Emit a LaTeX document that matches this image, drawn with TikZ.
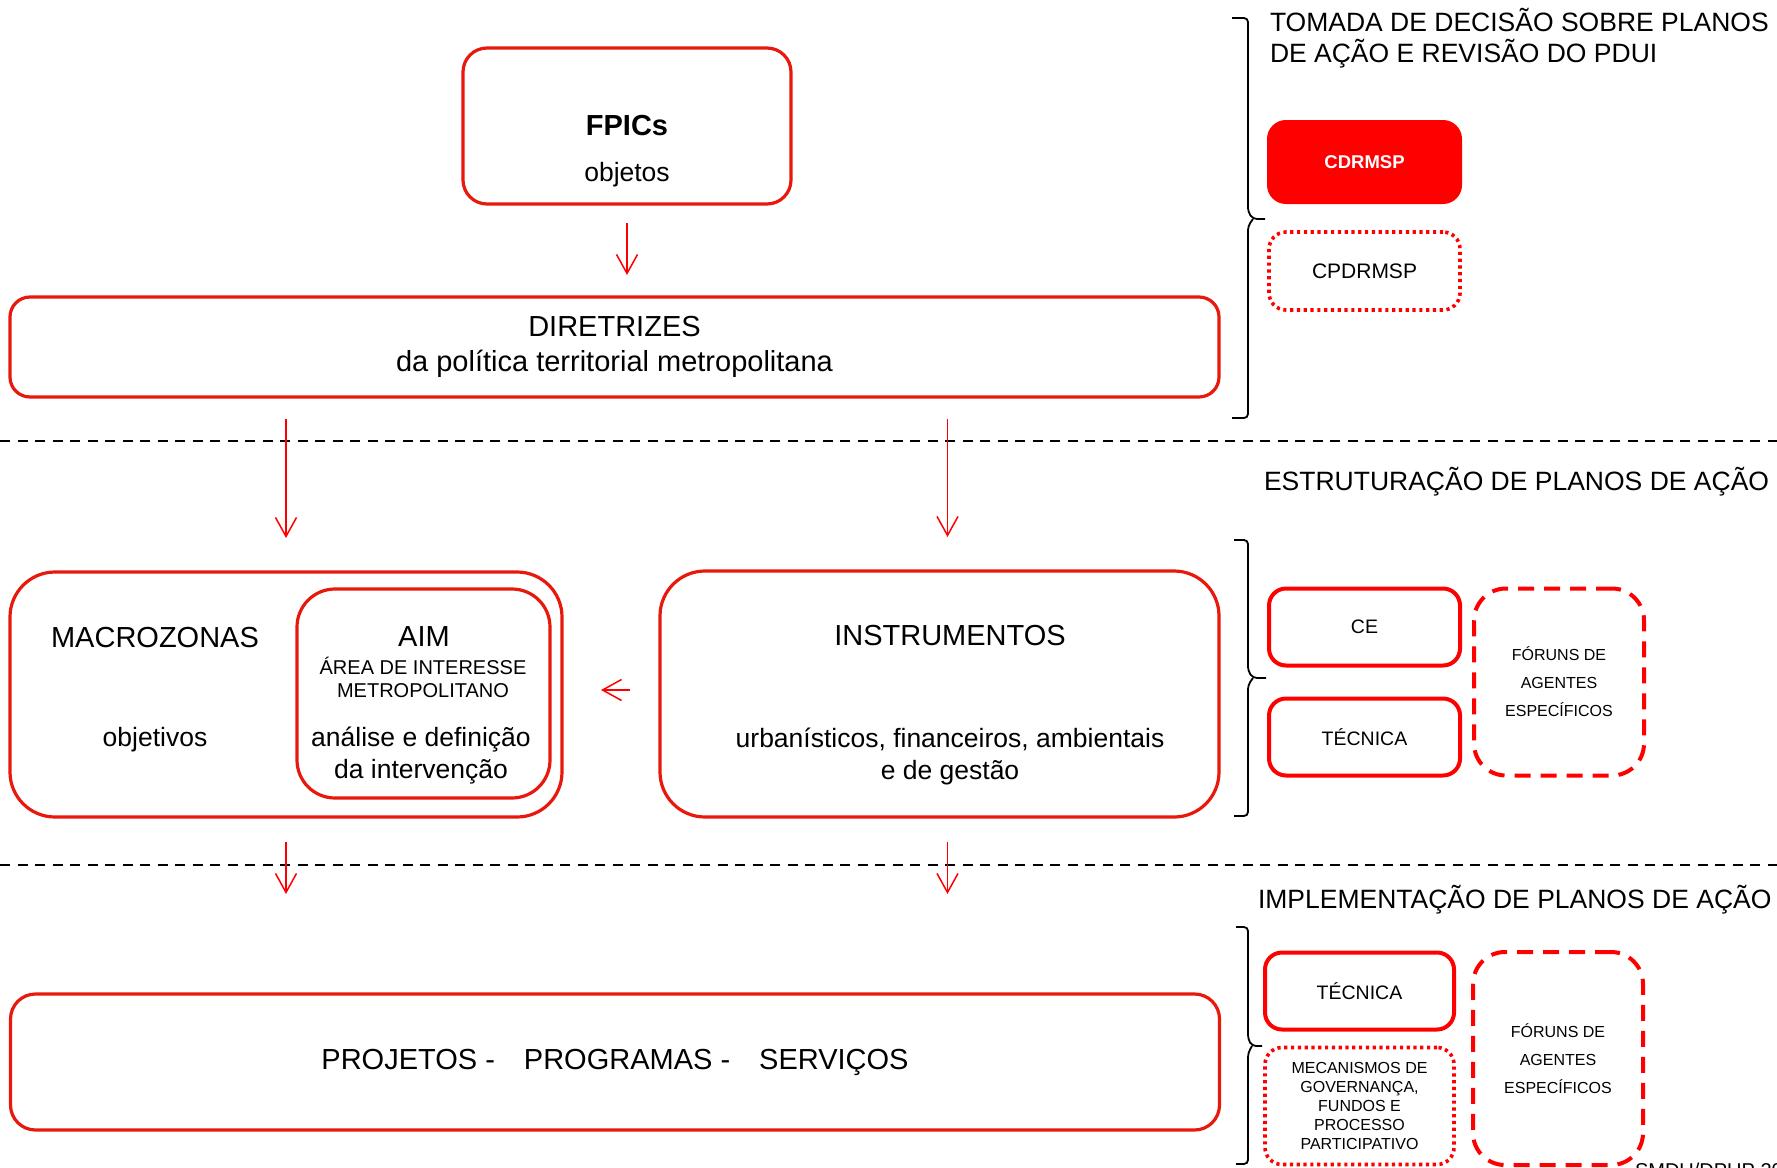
\documentclass[tikz,border=0pt]{standalone}
\usepackage{fontspec}
\setmainfont{Liberation Sans}
\usetikzlibrary{arrows.meta, positioning}
\definecolor{cBoxRed}{RGB}{232,24,12}
\definecolor{cRed}{RGB}{255,0,0}
\tikzset{
	mainbox/.style  ={rectangle, draw=cBoxRed, line width=3.2pt, align=center},
	sidebox/.style  ={rectangle, rounded corners=17pt, draw=cRed, line width=4pt, align=center, font=\fontsize{19.5}{23}\selectfont},
	dotbox/.style   ={rectangle, rounded corners=17pt, draw=cRed, line width=3.6pt, dash pattern=on 3.2pt off 3.6pt, align=center},
	dashbox/.style  ={rectangle, rounded corners=32pt, draw=cRed, line width=4pt, dash pattern=on 16pt off 10pt, align=center, font=\fontsize{16}{28}\selectfont},
	flowarrow/.style={-{Straight Barb[length=19pt, width=21pt]}, draw=cRed, line width=1.5pt},
	sepline/.style  ={black, line width=2pt, dash pattern=on 10pt off 7.5pt},
	bracket/.style  ={black, line width=1.8pt, rounded corners=4pt},
	captxt/.style   ={font=\fontsize{29}{35}\selectfont},
	bodytxt/.style  ={font=\fontsize{26.5}{32}\selectfont, align=center},
	headtxt/.style  ={font=\fontsize{26.5}{31}\selectfont, align=left, anchor=west},
}
\begin{document}
\begin{tikzpicture}[x=1pt, y=-1pt, every node/.style={inner sep=0pt, outer sep=0pt}]
	\useasboundingbox (0,0) rectangle (1777,1167);
	% decisao
	\node[mainbox, rounded corners=24pt, minimum width=328pt, minimum height=156pt] (fpics) at (627,126) {};
	\node[font=\bfseries\fontsize{29}{35}\selectfont] (fpicsT) at (627,126) {FPICs};
	\node[bodytxt] (fpicsS) at (627,175) {objetos};
	\node[mainbox, rounded corners=20pt, minimum width=1209pt, minimum height=100pt, captxt] (dir) at (614.5,347) {DIRETRIZES\\da política territorial metropolitana};
	% estruturacao
	\node[mainbox, rounded corners=45pt, minimum width=552pt, minimum height=245pt] (macro) at (286,694.5) {};
	\node[mainbox, rounded corners=38pt, minimum width=253pt, minimum height=209pt] (aim) at (423.5,693.5) {};
	\node[mainbox, rounded corners=45pt, minimum width=559pt, minimum height=246pt] (instr) at (939.5,694) {};
	\node[captxt] (macroT) at (155,638) {MACROZONAS};
	\node[bodytxt] (macroS) at (155,740) {objetivos};
	\node[captxt] (aimT) at (424,637) {AIM};
	\node[font=\fontsize{20}{23}\selectfont, align=center] (aimN) at (423,677.5) {ÁREA DE INTERESSE\\METROPOLITANO};
	\node[bodytxt] (aimS) at (421,756) {análise e definição\\da intervenção};
	\node[captxt] (instrT) at (950,636) {INSTRUMENTOS};
	\node[bodytxt] (instrS) at (950,756) {urbanísticos, financeiros, ambientais\\e de gestão};
	% implementacao
	\node[mainbox, rounded corners=25pt, minimum width=1209pt, minimum height=136pt, captxt] (proj) at (615,1062) {PROJETOS -\quad PROGRAMAS -\quad SERVIÇOS};
	\draw[sepline] (0,441) -- (1777,441);
	\draw[sepline] (0,865) -- (1777,865);
	\draw[flowarrow, shorten <=19pt, shorten >=22pt] (fpics.south) -- (fpics.south |- dir.north);
	\draw[flowarrow, shorten <=22pt, shorten >=34pt] (dir.south -| macro.north) -- (macro.north);
	\draw[flowarrow, shorten <=22pt, shorten >=34pt] ([xshift=8pt]dir.south -| instr.north) -- ([xshift=8pt]instr.north);
	\draw[flowarrow, shorten <=25pt, shorten >=100pt] (macro.south) -- (macro.south |- proj.north);
	\draw[flowarrow, shorten <=25pt, shorten >=100pt] ([xshift=8pt]instr.south) -- ([xshift=8pt]instr.south |- proj.north);
	\draw[flowarrow, shorten <=30pt, shorten >=39pt] ([yshift=4pt]instr.west) -- ([yshift=4pt]instr.west -| macro.east);
	% lado direito
	\node[headtxt] (headA) at (1270,38.5) {TOMADA DE DECISÃO SOBRE PLANOS\\DE AÇÃO E REVISÃO DO PDUI};
	\node[sidebox, fill=cRed, text=white, font=\bfseries\fontsize{18.5}{22}\selectfont, minimum width=191pt, minimum height=80pt] (cdrmsp) at (1364.5,162) {CDRMSP};
	\node[dotbox, font=\fontsize{21}{25}\selectfont, minimum width=191pt, minimum height=78pt, below=30pt of cdrmsp] (cpdrmsp) {CPDRMSP};
	\draw[bracket] (1232,18) -- (1248,18) -- (1248,212) -- (1253,219) -- (1265,219);
	\draw[bracket] (1253,219) -- (1248,226) -- (1248,418) -- (1232,418);
	\node[headtxt] (headB) at (1264,482) {ESTRUTURAÇÃO DE PLANOS DE AÇÃO};
	\node[sidebox, minimum width=191pt, minimum height=77pt] (ce) at (1364.5,627) {CE};
	\node[sidebox, minimum width=191pt, minimum height=77pt, below=33pt of ce] (tecB) {TÉCNICA};
	\node[dashbox, minimum width=170pt, minimum height=187pt] (forumB) at (1559,682) {FÓRUNS DE\\AGENTES\\ESPECÍFICOS};
	\draw[bracket] (1234,540) -- (1248,540) -- (1248,671) -- (1253,678) -- (1266,678);
	\draw[bracket] (1253,678) -- (1248,685) -- (1248,816) -- (1234,816);
	\node[headtxt] (headC) at (1258,900) {IMPLEMENTAÇÃO DE PLANOS DE AÇÃO};
	\node[sidebox, minimum width=189pt, minimum height=77pt] (tecC) at (1359.5,991) {TÉCNICA};
	\node[dotbox, font=\fontsize{16}{19}\selectfont, minimum width=189pt, minimum height=117pt, below=18pt of tecC] (mecC) {MECANISMOS DE\\GOVERNANÇA,\\FUNDOS E\\PROCESSO\\PARTICIPATIVO};
	\node[dashbox, minimum width=170pt, minimum height=213pt] (forumC) at (1558,1058.5) {FÓRUNS DE\\AGENTES\\ESPECÍFICOS};
	\draw[bracket] (1236,927) -- (1248,927) -- (1248,1039) -- (1252,1046) -- (1262,1046);
	\draw[bracket] (1252,1046) -- (1248,1053) -- (1248,1164) -- (1236,1164);
	\node[font=\fontsize{20}{24}\selectfont, anchor=north west] (credit) at (1635,1163) {SMDU/DPUP 20};
\end{tikzpicture}
\end{document}
